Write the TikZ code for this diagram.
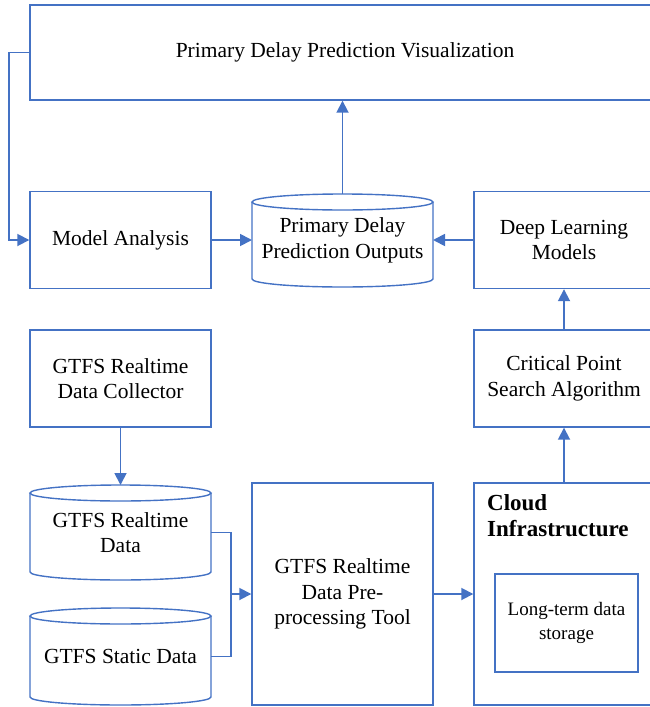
\documentclass[tikz,border=0pt]{standalone}
\usepackage{fontspec}
\setmainfont{Liberation Serif}
\usetikzlibrary{arrows.meta,calc}
\definecolor{flow}{HTML}{4472C4}

% outline of a drum (database) shape around a named node
\newcommand\drawdrum[3]{%
  \draw[edge] ([yshift=-#3]#1.north west) -- ([yshift=#3]#1.south west)
    arc[start angle=180,end angle=360,x radius=#2,y radius=#3]
    -- ([yshift=-#3]#1.north east);
  \draw[edge] ([yshift=-#3]#1.north) ellipse[x radius=#2,y radius=#3];}

\begin{document}
\begin{tikzpicture}[x=1pt,y=-1pt,
  edge/.style={draw=flow,line width=1.4pt},
  blk/.style={draw=flow,line width=1.4pt,align=center,inner sep=0pt,
    font=\fontsize{21.5}{25.5}\selectfont},
  drum/.style={inner sep=0pt,outer sep=0pt,align=center,
    font=\fontsize{21.5}{25.5}\selectfont},
  arr/.style={edge,line width=1.8pt,-{Triangle[length=12pt,width=12pt]}}]
\useasboundingbox (0,0) rectangle (650,707);
\clip (0,0) rectangle (650,707);

% upper row
\node[blk,minimum width=630pt,minimum height=95pt] (viz) at (345,52.5)
  {Primary Delay Prediction Visualization};
\node[blk,minimum width=181pt,minimum height=97pt] (model) at (120.5,240)
  {Model Analysis};
\node[drum,minimum width=181pt,minimum height=93pt] (out) at (342.5,240.5)
  {Primary Delay\\Prediction Outputs};
\drawdrum{out}{90.5pt}{8pt}
\node[blk,minimum width=180pt,minimum height=97pt] (dl) at (564,240)
  {Deep Learning\\Models};

% middle row
\node[blk,minimum width=181pt,minimum height=97pt] (coll) at (120.5,378.5)
  {GTFS Realtime\\Data Collector};
\node[blk,minimum width=180pt,minimum height=97pt] (crit) at (564,378.5)
  {Critical Point\\Search Algorithm};

% lower row
\node[drum,minimum width=181pt,minimum height=95pt] (rt) at (120.5,532.5)
  {GTFS Realtime\\Data};
\drawdrum{rt}{90.5pt}{8pt}
\node[drum,minimum width=181pt,minimum height=97pt] (st) at (120.5,656.5)
  {GTFS Static Data};
\drawdrum{st}{90.5pt}{8pt}
\node[blk,minimum width=181pt,minimum height=222pt] (pre) at (342.5,594)
  {GTFS Realtime\\Data Pre-\\processing Tool};
\node[blk,minimum width=180pt,minimum height=222pt] (cloud) at (564,594) {};
\node[anchor=north west,inner sep=0pt,align=left,
  font=\fontsize{23}{26}\selectfont\bfseries] (cloudlbl) at (487,494)
  {Cloud\\Infrastructure};
\node[blk,minimum width=143pt,minimum height=98pt,
  font=\fontsize{19}{24}\selectfont] (store) at (566.5,623)
  {Long-term data\\storage};

% connectors
\draw[arr] (out.north) -- (out.north |- viz.south);
\draw[arr] (viz.west) -- (9,52.5) |- (model.west);
\draw[arr] (model.east) -- (model.east -| out.west);
\draw[arr] (dl.west) -- (dl.west -| out.east);
\draw[arr] (crit.north) -- (dl.south);
\draw[arr] (cloud.north) -- (crit.south);
\draw[arr] (coll.south) -- (rt.north);
\coordinate (join) at (231,594);
\draw[edge] (rt.east) -| (join);
\draw[edge] (st.east) -| (join);
\draw[arr] (join) -- (pre.west);
\draw[arr] (pre.east) -- (cloud.west);
\end{tikzpicture}
\end{document}
